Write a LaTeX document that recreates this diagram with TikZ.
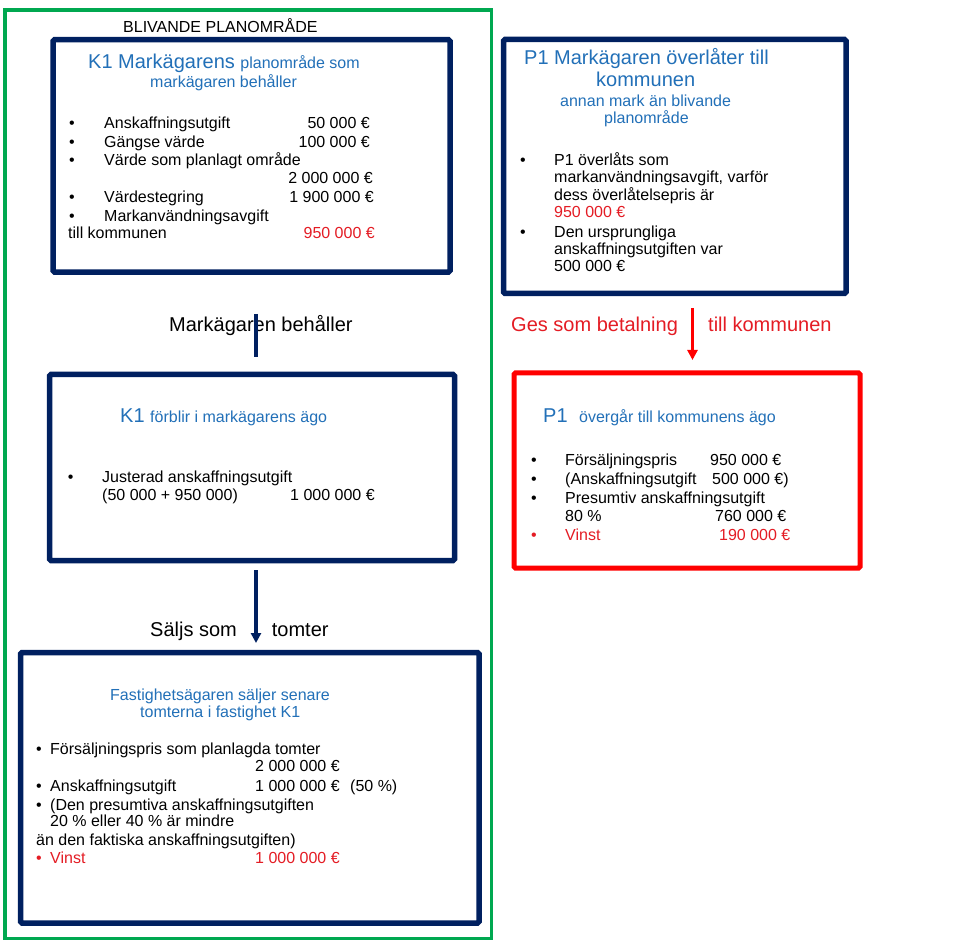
\documentclass[tikz,border=0pt]{standalone}
\usepackage{fontspec}
\setmainfont{Liberation Sans}
\usetikzlibrary{arrows.meta}
\definecolor{navy}{RGB}{0,32,96}
\definecolor{tblue}{RGB}{34,112,184}
\definecolor{tred}{RGB}{228,28,36}
\definecolor{bred}{RGB}{255,0,0}
\definecolor{bgreen}{RGB}{0,168,80}
\newcommand\fb{\fontsize{16}{19}\selectfont}
\newcommand\fh{\fontsize{20}{24}\selectfont}
\begin{document}
\begin{tikzpicture}[x=1pt,y=-1pt,
  navybox/.style={draw=navy, line width=5.5pt, rounded corners=1.5pt, minimum width=#1},
  redbox/.style={draw=bred, line width=5pt, rounded corners=1.5pt},
  greenbox/.style={draw=bgreen, line width=3.3pt},
  tx/.style={anchor=base west, inner sep=0pt, font=\fb},
  tr/.style={anchor=base east, inner sep=0pt, font=\fb},
  bul/.style={anchor=base, inner sep=0pt, font=\fb},
  hd/.style={anchor=base west, inner sep=0pt, font=\fh},
  navyline/.style={draw=navy, line width=3.5pt},
  navyarrow/.style={draw=navy, line width=3.5pt, -{Triangle[width=10pt,length=10pt]}},
  redarrow/.style={draw=bred, line width=3pt, -{Triangle[width=10pt,length=10pt]}}
]
\useasboundingbox (0,0) rectangle (970,941);
\fill[white] (0,0) rectangle (970,941);

% frames
\node[greenbox, minimum width=486.5pt, minimum height=928.5pt, inner sep=0pt] (green) at (248.25,474.25) {};
\node[navybox=397pt, minimum height=232.3pt, inner sep=0pt] (k1top) at (251.5,155.9) {};
\node[navybox=405pt, minimum height=186pt, inner sep=0pt] (k1mid) at (252,467.5) {};
\node[navybox=458.5pt, minimum height=270.5pt, inner sep=0pt] (k1bot) at (249.75,787.75) {};
\node[navybox=342.5pt, minimum height=254pt, inner sep=0pt] (p1top) at (674.75,166.5) {};
\node[redbox, minimum width=346pt, minimum height=195pt, inner sep=0pt] (p1red) at (687,470.5) {};

% top label
\node[tx] (blv) at (123,32.7) {BLIVANDE PLANOMRÅDE};

% K1 top box
\node[tx, text=tblue] (k1h1) at (88,69) {\fh K1 Markägarens \fb planområde som};
\node[tx, text=tblue] (k1h2) at (150,87.3) {markägaren behåller};
\node[bul] (b1) at (72,128.3) {•};
\node[bul] (b2) at (72,147.3) {•};
\node[bul] (b3) at (72,166) {•};
\node[bul] (b4) at (72,202.7) {•};
\node[bul] (b5) at (72,221.7) {•};
\node[tx] (a1) at (104,128.3) {Anskaffningsutgift};
\node[tx] (a2) at (104,147.3) {Gängse värde};
\node[tx] (a3) at (104,166) {Värde som planlagt område};
\node[tx] (a4) at (104,202.7) {Värdestegring};
\node[tx] (a5) at (104,221.7) {Markanvändningsavgift};
\node[tx] (a6) at (68,238.3) {till kommunen};
\node[tr] (v1) at (370,128.3) {50 000 €};
\node[tr] (v2) at (370,147.3) {100 000 €};
\node[tr] (v3) at (373,183.3) {2 000 000 €};
\node[tr] (v4) at (374,202.7) {1 900 000 €};
\node[tr, text=tred] (v5) at (375,238.3) {950 000 €};

% P1 top box
\node[hd, text=tblue] (p1h1) at (524,65) {P1 Markägaren överlåter till};
\node[hd, text=tblue] (p1h2) at (596,87) {kommunen};
\node[tx, text=tblue] (p1h3) at (560,106.5) {annan mark än blivande};
\node[tx, text=tblue] (p1h4) at (604,124) {planområde};
\node[bul] (pb1) at (523,165.5) {•};
\node[bul] (pb2) at (523,237.5) {•};
\node[tx] (pl1) at (554,165.5) {P1 överlåts som};
\node[tx] (pl2) at (554,183) {markanvändningsavgift, varför};
\node[tx] (pl3) at (554,200.5) {dess överlåtelsepris är};
\node[tx, text=tred] (pl4) at (554,218) {950 000 €};
\node[tx] (pl5) at (554,237.5) {Den ursprungliga};
\node[tx] (pl6) at (554,255) {anskaffningsutgiften var};
\node[tx] (pl7) at (554,272) {500 000 €};

% red connector
\node[hd, text=tred] (ges1) at (511,331.7) {Ges som betalning};
\node[hd, text=tred] (ges2) at (708,331.7) {till kommunen};
\coordinate (r1) at (692.5,308);
\coordinate (r2) at (692.5,360);
\draw[redarrow] (r1) -- (r2);

% red box
\node[hd, text=tblue] (rh1) at (543,423) {P1};
\node[tx, text=tblue] (rh2) at (579,423) {övergår till kommunens ägo};
\node[bul] (rb1) at (534,465) {•};
\node[bul] (rb2) at (534,484) {•};
\node[bul] (rb3) at (534,503) {•};
\node[bul, text=tred] (rb4) at (534,540.5) {•};
\node[tx] (rl1) at (565,465) {Försäljningspris};
\node[tx] (rl2) at (565,484) {(Anskaffningsutgift};
\node[tx] (rl3) at (565,503) {Presumtiv anskaffningsutgift};
\node[tx] (rl4) at (565,521) {80 \%};
\node[tx, text=tred] (rl5) at (565,540.5) {Vinst};
\node[tx] (rv1) at (710,465) {950 000 €};
\node[tx] (rv2) at (712,484) {500 000 €)};
\node[tx] (rv3) at (715,521) {760 000 €};
\node[tx, text=tred] (rv4) at (719,540.5) {190 000 €};

% connector 1
\node[hd] (mb) at (169,331.7) {Markägaren behåller};
\coordinate (m1) at (256,314);
\coordinate (m2) at (256,357);
\draw[navyline] (m1) -- (m2);

% K1 mid box
\node[hd, text=tblue] (mh1) at (120,422.7) {K1};
\node[tx, text=tblue] (mh2) at (150,422.7) {förblir i markägarens ägo};
\node[bul] (mb1) at (70.7,482.7) {•};
\node[tx] (ml1) at (102,482.7) {Justerad anskaffningsutgift};
\node[tx] (ml2) at (102,500.7) {(50 000 + 950 000)};
\node[tx] (mv1) at (290,500.7) {1 000 000 €};

% connector 2
\node[hd] (sj1) at (150,636.7) {Säljs som};
\node[hd] (sj2) at (271.7,636.7) {tomter};
\coordinate (s1) at (256,570);
\coordinate (s2) at (256,643);
\draw[navyarrow] (s1) -- (s2);

% bottom box
\node[tx, text=tblue] (bh1) at (110,700) {Fastighetsägaren säljer senare};
\node[tx, text=tblue] (bh2) at (140,717.7) {tomterna i fastighet K1};
\node[bul] (bb1) at (39,754) {•};
\node[bul] (bb2) at (39,791) {•};
\node[bul] (bb3) at (39,810) {•};
\node[bul, text=tred] (bb4) at (39,863.3) {•};
\node[tx] (bl1) at (50,754) {Försäljningspris som planlagda tomter};
\node[tx] (bl2) at (255,771.7) {2 000 000 €};
\node[tx] (bl3) at (50,791) {Anskaffningsutgift};
\node[tx] (bl4) at (255,791) {1 000 000 €};
\node[tx] (bl5) at (350,791) {(50 \%)};
\node[tx] (bl6) at (50,810) {(Den presumtiva anskaffningsutgiften};
\node[tx] (bl7) at (50,826.7) {20 \% eller 40 \% är mindre};
\node[tx] (bl8) at (36,845) {än den faktiska anskaffningsutgiften)};
\node[tx, text=tred] (bl9) at (50,863.3) {Vinst};
\node[tx, text=tred] (bl10) at (255,863.3) {1 000 000 €};
\end{tikzpicture}
\end{document}
